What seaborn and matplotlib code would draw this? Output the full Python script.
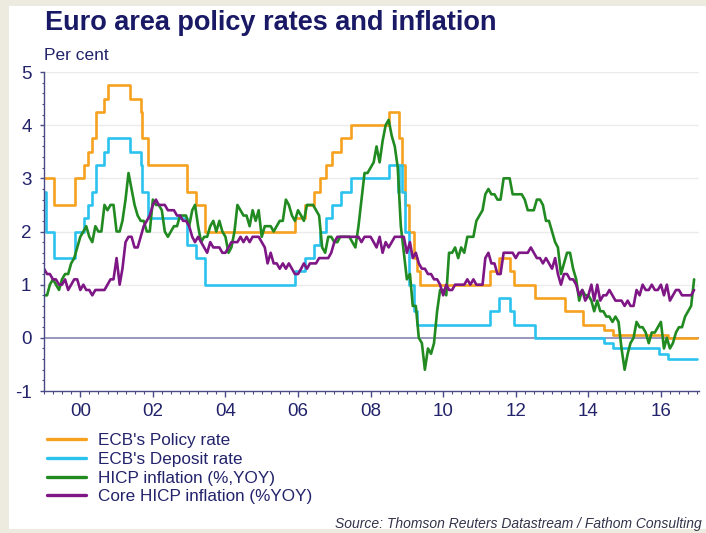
import numpy as np
import pandas as pd
import matplotlib
matplotlib.use("Agg")
import matplotlib.pyplot as plt
from matplotlib.ticker import MultipleLocator, FixedLocator, FixedFormatter
from matplotlib.patches import Rectangle
import seaborn as sns

# ---------------------------------------------------------------- data
# ECB main refinancing ("policy") rate: decision dates and new levels (%)
policy_dates = ["1999-01-01", "1999-04-09", "1999-11-05", "2000-02-04", "2000-03-17",
                "2000-04-28", "2000-06-09", "2000-09-01", "2000-10-06", "2001-05-11",
                "2001-08-31", "2001-09-18", "2001-11-09", "2002-12-06", "2003-03-07",
                "2003-06-06", "2005-12-06", "2006-03-08", "2006-06-15", "2006-08-09",
                "2006-10-11", "2006-12-13", "2007-03-14", "2007-06-13", "2008-07-09",
                "2008-10-15", "2008-11-12", "2008-12-10", "2009-01-21", "2009-03-11",
                "2009-04-08", "2009-05-13", "2011-04-13", "2011-07-13", "2011-11-09",
                "2011-12-14", "2012-07-11", "2013-05-08", "2013-11-13", "2014-06-11",
                "2014-09-10", "2016-03-16", "2017-01-01"]
policy_rate = [3.00, 2.50, 3.00, 3.25, 3.50, 3.75, 4.25, 4.50, 4.75, 4.50,
               4.25, 3.75, 3.25, 2.75, 2.50, 2.00, 2.25, 2.50, 2.75, 3.00,
               3.25, 3.50, 3.75, 4.00, 4.25, 3.75, 3.25, 2.50, 2.00, 1.50,
               1.25, 1.00, 1.25, 1.50, 1.25, 1.00, 0.75, 0.50, 0.25, 0.15,
               0.05, 0.00, 0.00]

# ECB deposit facility rate: decision dates and new levels (%)
deposit_dates = ["1999-01-01", "1999-01-22", "1999-04-09", "1999-11-05", "2000-02-04",
                 "2000-03-17", "2000-04-28", "2000-06-09", "2000-09-01", "2000-10-06",
                 "2001-05-11", "2001-08-31", "2001-09-18", "2001-11-09", "2002-12-06",
                 "2003-03-07", "2003-06-06", "2005-12-06", "2006-03-08", "2006-06-15",
                 "2006-08-09", "2006-10-11", "2006-12-13", "2007-03-14", "2007-06-13",
                 "2008-07-09", "2008-10-08", "2008-10-09", "2008-11-12", "2008-12-10",
                 "2009-01-21", "2009-03-11", "2009-04-08", "2011-04-13", "2011-07-13",
                 "2011-11-09", "2011-12-14", "2012-07-11", "2014-06-11", "2014-09-10",
                 "2015-12-09", "2016-03-16", "2017-01-01"]
deposit_rate = [2.75, 2.00, 1.50, 2.00, 2.25, 2.50, 2.75, 3.25, 3.50, 3.75,
                3.50, 3.25, 2.75, 2.25, 1.75, 1.50, 1.00, 1.25, 1.50, 1.75,
                2.00, 2.25, 2.50, 2.75, 3.00, 3.25, 2.75, 3.25, 2.75, 2.00,
                1.00, 0.50, 0.25, 0.50, 0.75, 0.50, 0.25, 0.00, -0.10, -0.20,
                -0.30, -0.40, -0.40]

# Monthly HICP inflation, % year on year, Jan 1999 - Dec 2016 (one row per year)
hicp = [
    0.8, 0.8, 1.0, 1.1, 1.0, 0.9, 1.1, 1.2, 1.2, 1.4, 1.5, 1.7,
    1.9, 2.0, 2.1, 1.9, 1.8, 2.1, 2.0, 2.0, 2.5, 2.4, 2.5, 2.5,
    2.0, 2.0, 2.2, 2.6, 3.1, 2.8, 2.5, 2.3, 2.2, 2.2, 2.0, 2.0,
    2.6, 2.5, 2.5, 2.4, 2.0, 1.9, 2.0, 2.1, 2.1, 2.3, 2.3, 2.3,
    2.1, 2.4, 2.5, 2.1, 1.8, 1.9, 1.9, 2.1, 2.2, 2.0, 2.2, 2.0,
    1.9, 1.6, 1.7, 2.0, 2.5, 2.4, 2.3, 2.3, 2.1, 2.4, 2.2, 2.4,
    1.9, 2.1, 2.1, 2.1, 2.0, 2.1, 2.2, 2.2, 2.6, 2.5, 2.3, 2.2,
    2.4, 2.3, 2.2, 2.5, 2.5, 2.5, 2.4, 2.3, 1.7, 1.6, 1.9, 1.9,
    1.8, 1.8, 1.9, 1.9, 1.9, 1.9, 1.8, 1.7, 2.1, 2.6, 3.1, 3.1,
    3.2, 3.3, 3.6, 3.3, 3.7, 4.0, 4.1, 3.8, 3.6, 3.2, 2.1, 1.6,
    1.1, 1.2, 0.6, 0.6, 0.0, -0.1, -0.6, -0.2, -0.3, -0.1, 0.5, 0.9,
    0.9, 0.8, 1.6, 1.6, 1.7, 1.5, 1.7, 1.6, 1.9, 1.9, 1.9, 2.2,
    2.3, 2.4, 2.7, 2.8, 2.7, 2.7, 2.6, 2.6, 3.0, 3.0, 3.0, 2.7,
    2.7, 2.7, 2.7, 2.6, 2.4, 2.4, 2.4, 2.6, 2.6, 2.5, 2.2, 2.2,
    2.0, 1.8, 1.7, 1.2, 1.4, 1.6, 1.6, 1.3, 1.1, 0.7, 0.9, 0.8,
    0.8, 0.7, 0.5, 0.7, 0.5, 0.5, 0.4, 0.4, 0.3, 0.4, 0.3, -0.2,
    -0.6, -0.3, -0.1, 0.0, 0.3, 0.2, 0.2, 0.1, -0.1, 0.1, 0.1, 0.2,
    0.3, -0.2, 0.0, -0.2, -0.1, 0.1, 0.2, 0.2, 0.4, 0.5, 0.6, 1.1,
]

# Monthly core HICP inflation, % year on year, Jan 1999 - Dec 2016
core = [
    1.3, 1.2, 1.2, 1.1, 1.1, 1.0, 1.0, 1.1, 0.9, 1.0, 1.1, 1.1,
    0.9, 1.0, 0.9, 0.9, 0.8, 0.9, 0.9, 0.9, 0.9, 1.0, 1.1, 1.1,
    1.5, 1.0, 1.3, 1.8, 1.9, 1.9, 1.7, 1.7, 1.9, 2.1, 2.2, 2.3,
    2.5, 2.6, 2.5, 2.5, 2.5, 2.4, 2.4, 2.4, 2.3, 2.3, 2.2, 2.2,
    2.1, 1.9, 1.8, 1.9, 1.8, 1.7, 1.6, 1.8, 1.7, 1.7, 1.7, 1.6,
    1.6, 1.7, 1.8, 1.8, 1.8, 1.9, 1.8, 1.9, 1.8, 1.9, 1.9, 1.9,
    1.8, 1.7, 1.4, 1.6, 1.4, 1.4, 1.3, 1.4, 1.3, 1.4, 1.3, 1.2,
    1.2, 1.3, 1.4, 1.3, 1.4, 1.4, 1.4, 1.5, 1.5, 1.5, 1.5, 1.6,
    1.8, 1.9, 1.9, 1.9, 1.9, 1.9, 1.9, 1.9, 1.9, 1.8, 1.9, 1.9,
    1.9, 1.8, 1.7, 1.9, 1.6, 1.8, 1.7, 1.8, 1.9, 1.9, 1.9, 1.9,
    1.6, 1.8, 1.5, 1.6, 1.4, 1.3, 1.3, 1.2, 1.2, 1.1, 1.1, 1.0,
    0.8, 1.0, 0.9, 0.9, 1.0, 1.0, 1.0, 1.0, 1.1, 1.0, 1.1, 1.0,
    1.0, 1.0, 1.5, 1.6, 1.4, 1.4, 1.2, 1.2, 1.6, 1.6, 1.6, 1.6,
    1.5, 1.6, 1.6, 1.6, 1.6, 1.7, 1.6, 1.5, 1.5, 1.4, 1.5, 1.4,
    1.3, 1.5, 1.2, 1.0, 1.2, 1.2, 1.1, 1.1, 1.0, 0.8, 0.9, 0.7,
    0.8, 1.0, 0.7, 1.0, 0.7, 0.8, 0.8, 0.9, 0.8, 0.7, 0.7, 0.7,
    0.6, 0.7, 0.6, 0.6, 0.9, 0.8, 1.0, 0.9, 0.9, 1.0, 0.9, 0.9,
    1.0, 0.8, 1.0, 0.7, 0.8, 0.9, 0.9, 0.8, 0.8, 0.8, 0.8, 0.9,
]

year_ticks = list(range(2000, 2017, 2))
year_labels = ["00", "02", "04", "06", "08", "10", "12", "14", "16"]
series_labels = ["ECB's Policy rate", "ECB's Deposit rate",
                 "HICP inflation (%,YOY)", "Core HICP inflation (%YOY)"]

title = "Euro area policy rates and inflation"
unit = "Per cent"
source = "Source: Thomson Reuters Datastream / Fathom Consulting"


# ---------------------------------------------------------------- helpers
def decimal_year(dates):
    d = pd.to_datetime(pd.Series(dates))
    start = pd.to_datetime(d.dt.year.astype(str) + "-01-01")
    days = np.where(d.dt.is_leap_year, 366.0, 365.0)
    return (d.dt.year + (d - start).dt.days / days).to_numpy()


months = pd.date_range("1999-01-01", periods=len(hicp), freq="MS")
month_x = decimal_year(months)

policy_df = pd.DataFrame({"year": decimal_year(policy_dates), "rate": policy_rate})
deposit_df = pd.DataFrame({"year": decimal_year(deposit_dates), "rate": deposit_rate})
infl_df = pd.DataFrame({"year": month_x, "hicp": hicp, "core": core})

# ---------------------------------------------------------------- style
sns.set_theme(style="white")
plt.rcParams["font.family"] = ["Liberation Sans", "DejaVu Sans"]
plt.rcParams["axes.unicode_minus"] = False

NAVY = "#191966"
TEXT = "#23236b"
AXIS = "#4a4a86"
ORANGE = "#F6A21F"
BLUE = "#2BC3EE"
GREEN = "#218A21"
PURPLE = "#7E1686"
BEIGE = "#EDEAE0"
LW = 1.9

W, H = 706, 533
fig = plt.figure(figsize=(W / 100, H / 100), dpi=100)
fig.patch.set_facecolor(BEIGE)
fig.add_artist(Rectangle((9 / W, 4 / H), 1 - 9 / W, (528 - 5) / H,
                         transform=fig.transFigure, facecolor="white",
                         edgecolor="none", zorder=-10))

ax = fig.add_axes([44 / W, 1 - 391 / H, (699 - 44) / W, (391 - 72) / H])
ax.set_facecolor("none")

sns.lineplot(data=policy_df, x="year", y="rate", ax=ax, color=ORANGE, lw=LW,
             drawstyle="steps-post", estimator=None, label=series_labels[0])
sns.lineplot(data=deposit_df, x="year", y="rate", ax=ax, color=BLUE, lw=LW,
             drawstyle="steps-post", estimator=None, label=series_labels[1])
sns.lineplot(data=infl_df, x="year", y="hicp", ax=ax, color=GREEN, lw=LW,
             estimator=None, label=series_labels[2])
sns.lineplot(data=infl_df, x="year", y="core", ax=ax, color=PURPLE, lw=LW,
             estimator=None, label=series_labels[3])

ax.set_xlim(1999.0, 2017.05)
ax.set_ylim(-1, 5)
ax.set_xlabel("")
ax.set_ylabel("")

# axes, ticks and grid
for side in ("top", "right"):
    ax.spines[side].set_visible(False)
for side in ("left", "bottom"):
    ax.spines[side].set_color(AXIS)
    ax.spines[side].set_linewidth(1.0)

ax.xaxis.set_major_locator(FixedLocator(year_ticks))
ax.xaxis.set_major_formatter(FixedFormatter(year_labels))
ax.xaxis.set_minor_locator(MultipleLocator(0.25))
ax.yaxis.set_major_locator(MultipleLocator(1))
ax.yaxis.set_minor_locator(MultipleLocator(0.2))
ax.tick_params(axis="x", which="major", direction="out", length=4, width=1,
               color=AXIS, labelsize=13.5, labelcolor=TEXT, pad=5, bottom=True)
ax.tick_params(axis="x", which="minor", direction="out", length=2, width=0.8,
               color=AXIS, bottom=True)
ax.tick_params(axis="y", which="major", direction="out", length=3, width=1,
               color=AXIS, labelsize=13.5, labelcolor=TEXT, pad=6, left=True)
ax.tick_params(axis="y", which="minor", direction="out", length=1.5, width=0.8,
               color=AXIS, left=True)

ax.yaxis.grid(True, which="major", color="#EBEBEB", lw=1.0)
ax.set_axisbelow(True)
for val, gl in zip(ax.get_yticks(), ax.get_ygridlines()):
    if val <= 0:
        gl.set_visible(False)
ax.axhline(0, color="#7C7CAE", lw=1.1, zorder=1)

# legend below the plot
leg = ax.legend(loc="upper left", bbox_to_anchor=(47 / W, 1 - 433 / H),
                bbox_transform=fig.transFigure, frameon=False, fontsize=12.3,
                handlelength=2.3, handletextpad=0.7, labelspacing=0.22,
                borderpad=0, borderaxespad=0)
for t in leg.get_texts():
    t.set_color(TEXT)
for line in leg.get_lines():
    line.set_linewidth(2.4)

# titles and source
fig.text(45 / W, 1 - 23 / H, title, fontsize=19.5, fontweight="bold",
         color=NAVY, va="center", ha="left")
fig.text(44 / W, 1 - 55 / H, unit, fontsize=12.5, color=TEXT,
         va="center", ha="left")
fig.text(702 / W, 1 - 524 / H, source, fontsize=10, style="italic",
         color="#33334a", va="center", ha="right")

fig.savefig("out.png", dpi=100, facecolor=fig.get_facecolor())
